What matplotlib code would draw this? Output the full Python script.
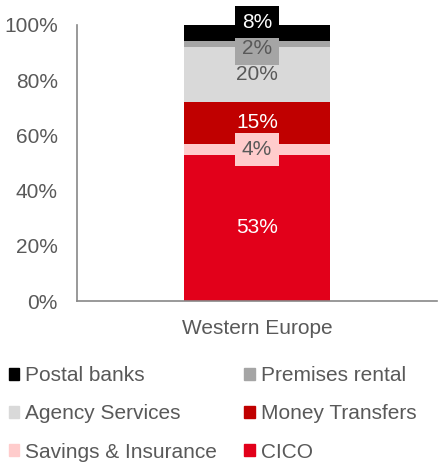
import matplotlib.pyplot as plt
from matplotlib.patches import Patch

plt.rcParams['font.family'] = ['Liberation Sans', 'DejaVu Sans']

region = "Western Europe"
segments = ["CICO", "Savings & Insurance", "Money Transfers",
            "Agency Services", "Premises rental", "Postal banks"]
shares = [53, 4, 15, 20, 2, 8]
colors = ["#e2001a", "#ffcccc", "#c00000", "#d9d9d9", "#a5a5a5", "#000000"]
label_colors = ["white", "#595959", "white", "#595959", "#595959", "white"]
label_boxes = [None, "#ffcccc", None, None, "#a5a5a5", "#000000"]
label_shift = [0, 0, 0, 0, -3, 6]  # points
ticks = [0, 20, 40, 60, 80, 100]

grey = "#595959"
fs = 15
fig = plt.figure(figsize=(4.38, 4.69), dpi=100)
ax = fig.add_axes([0.176, 0.358, 0.822, 0.589])

bottom = 0
for i, (name, v) in enumerate(zip(segments, shares)):
    ax.bar(0, v, bottom=bottom, width=0.405, color=colors[i], label=name, zorder=2)
    bbox = None
    if label_boxes[i] is not None:
        bbox = dict(boxstyle="square,pad=0.33", fc=label_boxes[i], ec="none")
    ax.annotate(f"{v}%", (0, bottom + v / 2), xytext=(0, label_shift[i]),
                textcoords="offset points", ha="center", va="center",
                fontsize=fs, color=label_colors[i], bbox=bbox,
                annotation_clip=False, zorder=3 + i)
    bottom += v

ax.set_xlim(-0.5, 0.5)
ax.set_ylim(0, 100)
ax.set_yticks(ticks)
ax.set_yticklabels([f"{t}%" for t in ticks])
ax.set_xticks([0])
ax.set_xticklabels([region])
ax.tick_params(axis="both", length=0, labelsize=fs, labelcolor=grey)
ax.tick_params(axis="y", pad=14)
ax.tick_params(axis="x", pad=13)
for s in ["top", "right"]:
    ax.spines[s].set_visible(False)
for s in ["left", "bottom"]:
    ax.spines[s].set_color("#888888")
    ax.spines[s].set_linewidth(1.2)

# legend laid out row by row: two entries per row
order = [5, 3, 1, 4, 2, 0]
handles = [Patch(color=colors[i]) for i in order]
labels = [segments[i] for i in order]
fig.legend(handles, labels, ncol=2, loc="upper left", bbox_to_anchor=(0.01, 0.228),
           frameon=False, fontsize=fs, labelcolor=grey, handlelength=0.5,
           handleheight=0.5, handletextpad=0.3, columnspacing=1.3,
           labelspacing=0.92, borderaxespad=0, borderpad=0.2)

fig.savefig("out.png", dpi=100)
